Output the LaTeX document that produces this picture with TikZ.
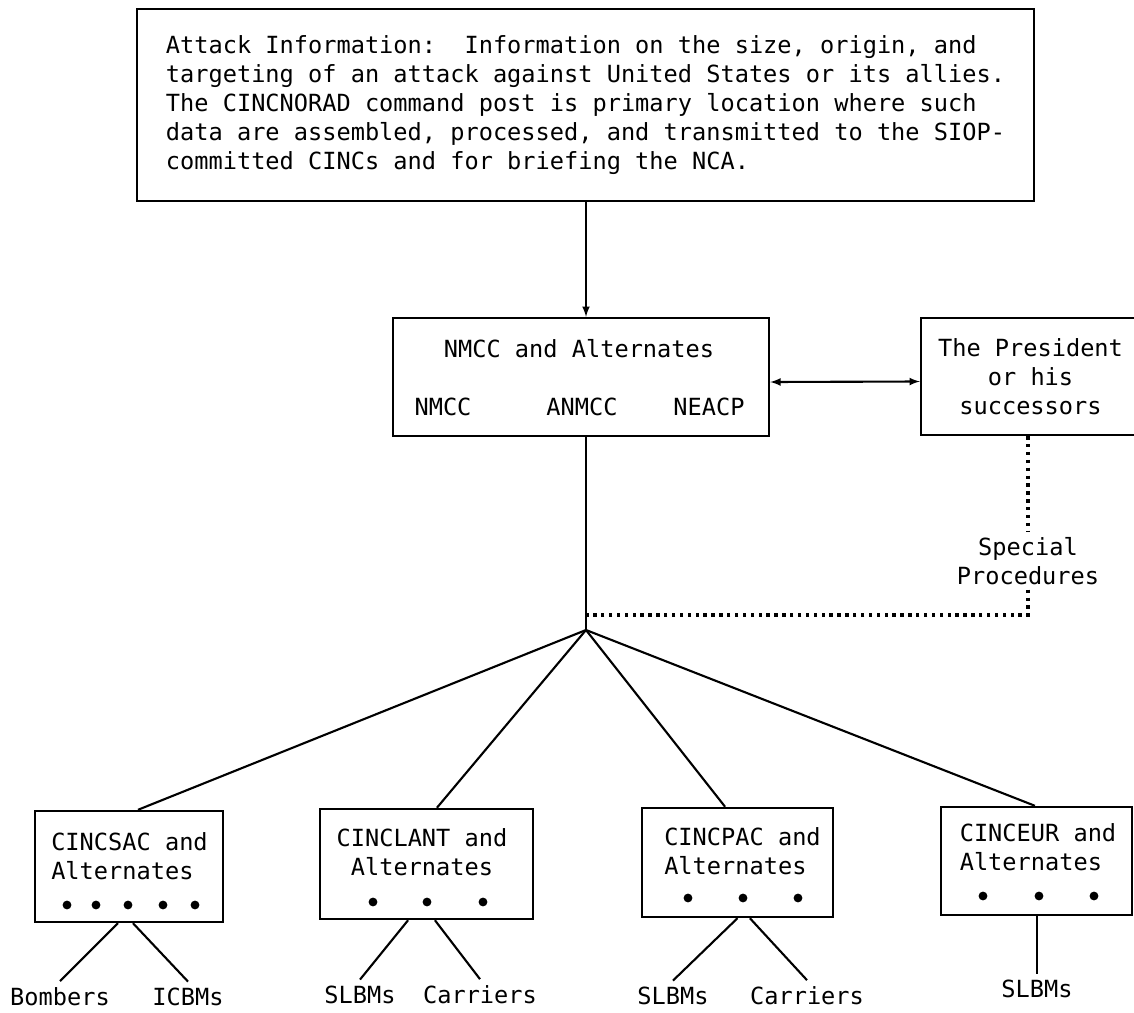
\documentclass[tikz,border=0pt]{standalone}
\usepackage{fontspec}
\setmainfont{DejaVu Sans Mono}
\usetikzlibrary{positioning}

\begin{document}
\frenchspacing
\begin{tikzpicture}[
  x=0.025cm, y=-0.025cm,
  font=\fontsize{16.8}{20.6}\selectfont,
  post/.style={draw, line width=1.7pt, inner sep=0pt},
  lbl/.style={inner sep=4pt, anchor=base},
  link/.style={line width=1.5pt},
  special/.style={line width=2.4pt, dash pattern=on 2.4pt off 3.2pt},
  >=latex
]
\useasboundingbox (0,0) rectangle (1134,1013);

% Attack information
\node[post, minimum width=22.425cm, minimum height=4.8cm, align=left] (info) at (585.5,105)
  {Attack Information:\ \ Information on the size, origin, and\\
   targeting of an attack against United States or its allies.\\
   The CINCNORAD command post is primary location where such\\
   data are assembled, processed, and transmitted to the SIOP-\\
   committed CINCs and for briefing the NCA.};

% NMCC and alternates
\node[post, minimum width=9.4cm, minimum height=2.95cm] (nmcc) at (581,377) {};
\node (nmcctitle) at (579,349) {NMCC and Alternates};
\node (nmccA) at (443,407) {NMCC};
\node (anmcc) at (582,407) {ANMCC};
\node (neacp) at (709,407) {NEACP};

% National command authority
\node[post, minimum width=5.475cm, minimum height=2.925cm, align=center] (pres) at (1030.5,376.5)
  {The President\\or his\\successors};
\node[align=center] (spec) at (1028,561) {Special\\Procedures};

% Branch points
\coordinate (hub) at (586,630);
\coordinate (join) at (586,615);

% Branch 1: CINCSAC
\node[post, minimum width=4.7cm, minimum height=2.775cm] (sac) at (129,866.5) {};
\node[align=left] (sactxt) at (129.5,856.5) {CINCSAC and\\Alternates};
\fill (67,905) circle[radius=0.11cm] (96,905) circle[radius=0.11cm]
      (128,905) circle[radius=0.11cm] (163,905) circle[radius=0.11cm]
      (195,905) circle[radius=0.11cm];
\node[lbl] (bomb) at (60,1005) {Bombers};
\node[lbl] (icbm) at (188,1005) {ICBMs};

% Branch 2: CINCLANT
\node[post, minimum width=5.325cm, minimum height=2.75cm] (lant) at (426.5,864) {};
\node[align=center] (lanttxt) at (422,852.5) {CINCLANT and\\Alternates};
\fill (373,902) circle[radius=0.11cm] (427,902) circle[radius=0.11cm]
      (483,902) circle[radius=0.11cm];
\node[lbl] (lslbm) at (360,1003) {SLBMs};
\node[lbl] (lcarr) at (480,1003) {Carriers};

% Branch 3: CINCPAC
\node[post, minimum width=4.775cm, minimum height=2.725cm] (pac) at (737.5,862.5) {};
\node[align=left] (pactxt) at (742.5,851) {CINCPAC and\\Alternates};
\fill (688,898) circle[radius=0.11cm] (743,898) circle[radius=0.11cm]
      (798,898) circle[radius=0.11cm];
\node[lbl] (pslbm) at (673,1004) {SLBMs};
\node[lbl] (pcarr) at (807,1004) {Carriers};

% Branch 4: CINCEUR
\node[post, minimum width=4.775cm, minimum height=2.7cm] (eur) at (1036.5,861) {};
\node[align=left] (eurtxt) at (1038,847.5) {CINCEUR and\\Alternates};
\fill (983,896) circle[radius=0.11cm] (1039,896) circle[radius=0.11cm]
      (1094,896) circle[radius=0.11cm];
\node[lbl] (eslbm) at (1037,997) {SLBMs};

% Connections at the top
\draw[link,->] (info.south -| hub) -- (nmcc.north -| hub);
\draw[link,<->] ([yshift=-0.125cm]nmcc.east) -- ([yshift=-0.125cm]pres.west);
\draw[link] (nmcc.south -| hub) -- (hub);
\draw[special] (spec.north |- pres.south) -- (spec.north);
\draw[special] (spec.south) |- (join);

% Connections from the branch point
\draw[link] (hub) -- ([xshift=0.225cm]sac.north);
\draw[link] (hub) -- ([xshift=0.26cm]lant.north);
\draw[link] (hub) -- ([xshift=-0.31cm]pac.north);
\draw[link] (hub) -- ([xshift=-0.04cm]eur.north);

% Forces below each command
\draw[link] ([xshift=-0.275cm]sac.south) -- (bomb.north);
\draw[link] ([xshift=0.1cm]sac.south) -- (icbm.north);
\draw[link] ([xshift=-0.46cm]lant.south) -- (lslbm.north);
\draw[link] ([xshift=0.21cm]lant.south) -- (lcarr.north);
\draw[link] (pac.south) -- (pslbm.north);
\draw[link] ([xshift=0.31cm]pac.south) -- (pcarr.north);
\draw[link] (eslbm.north |- eur.south) -- (eslbm.north);

\end{tikzpicture}
\end{document}
